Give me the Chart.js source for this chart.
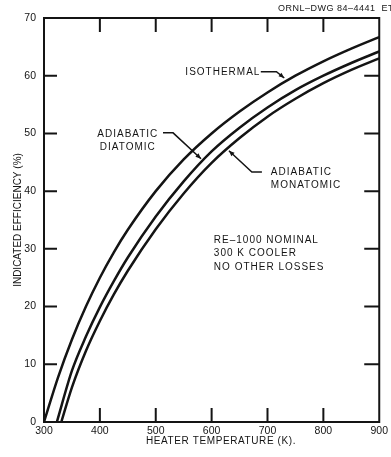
<!DOCTYPE html>
<html>
<head>
<meta charset="utf-8">
<script src="https://cdn.jsdelivr.net/npm/chart.js@4.4.0/dist/chart.umd.min.js"></script>
<style>
    html, body { margin: 0; padding: 0; background: #fff; }
    canvas { display: block; }
</style>
</head>
<body>
<canvas id="chart" width="391" height="457"></canvas>
<script>
// Heater temperature (K) vs indicated efficiency (%)
const isothermalTemps = [300, 325, 350, 375, 400, 425, 450, 500, 550, 600, 650, 700, 750, 800, 850, 900];
const isothermalEff = [0, 7.7, 14.3, 20.0, 25.0, 29.4, 33.3, 40.0, 45.5, 50.0, 53.8, 57.1, 60.0, 62.5, 64.7, 66.7];

const diatomicTemps = [323, 350, 375, 400, 425, 450, 500, 550, 600, 650, 700, 750, 800, 850, 900];
const diatomicEff = [0, 8.9, 14.8, 19.9, 24.4, 28.5, 35.6, 41.7, 46.9, 51.0, 54.5, 57.5, 60.0, 62.2, 64.2];

const monatomicTemps = [331, 350, 375, 400, 425, 450, 500, 550, 600, 650, 700, 750, 800, 850, 900];
const monatomicEff = [0, 6.0, 12.3, 17.5, 22.1, 26.2, 33.4, 39.6, 44.9, 49.2, 52.9, 56.0, 58.7, 61.0, 63.0];

const xTicks = [300, 400, 500, 600, 700, 800, 900];
const yTicks = [0, 10, 20, 30, 40, 50, 60, 70];

const INK = '#141414';
const FONT = "'Liberation Sans', Arial, sans-serif";

// Build {x, y} points for a curve
function points(temps, effs) {
    return temps.map((t, i) => ({ x: t, y: effs[i] }));
}

function curve(label, temps, effs) {
    return {
        label: label,
        data: points(temps, effs),
        borderColor: INK,
        borderWidth: 2.5,
        pointRadius: 0,
        fill: false,
        cubicInterpolationMode: 'monotone'
    };
}

// Labels and leader lines, placed in data units
const notes = {
    isothermal: { text: ['ISOTHERMAL'], x: 553, y: 60.6, align: 'left',
        leader: [[688, 60.7], [716, 60.7], [730, 59.6]] },
    diatomic: { text: ['ADIABATIC', 'DIATOMIC'], x: 450, y: 49.9, align: 'center',
        leader: [[513, 50.1], [531, 50.1], [581, 45.6]] },
    monatomic: { text: ['ADIABATIC', 'MONATOMIC'], x: 706, y: 43.3, align: 'left',
        leader: [[690, 43.3], [672, 43.3], [631, 47.0]] },
    conditions: { text: ['RE\u20131000 NOMINAL', '300 K COOLER', 'NO OTHER LOSSES'], x: 604, y: 31.5, align: 'left' }
};

function arrowHead(ctx, from, to) {
    const ang = Math.atan2(to[1] - from[1], to[0] - from[0]);
    const len = 6, spread = 0.4;
    ctx.beginPath();
    ctx.moveTo(to[0], to[1]);
    ctx.lineTo(to[0] - len * Math.cos(ang - spread), to[1] - len * Math.sin(ang - spread));
    ctx.lineTo(to[0] - len * Math.cos(ang + spread), to[1] - len * Math.sin(ang + spread));
    ctx.closePath();
    ctx.fill();
}

const framePlugin = {
    id: 'frame',
    afterDraw(chart) {
        const { ctx, chartArea: a, scales: { x, y } } = chart;
        ctx.save();
        ctx.strokeStyle = INK;
        ctx.fillStyle = INK;

        // Box and inward tick marks
        ctx.lineWidth = 2;
        ctx.strokeRect(a.left, a.top, a.right - a.left, a.bottom - a.top);
        ctx.beginPath();
        xTicks.slice(1, -1).forEach(v => {
            const px = x.getPixelForValue(v);
            ctx.moveTo(px, a.bottom); ctx.lineTo(px, a.bottom - 14);
            ctx.moveTo(px, a.top); ctx.lineTo(px, a.top + 14);
        });
        yTicks.slice(1, -1).forEach(v => {
            const py = y.getPixelForValue(v);
            ctx.moveTo(a.left, py); ctx.lineTo(a.left + 13, py);
            ctx.moveTo(a.right, py); ctx.lineTo(a.right - 15, py);
        });
        ctx.stroke();

        // Notes
        ctx.font = '10px ' + FONT;
        ctx.letterSpacing = '1px';
        ctx.textBaseline = 'middle';
        Object.values(notes).forEach(n => {
            ctx.textAlign = n.align;
            const px = x.getPixelForValue(n.x);
            const py = y.getPixelForValue(n.y);
            n.text.forEach((line, i) => ctx.fillText(line, px, py + i * 13.5));

            if (n.leader) {
                const pts = n.leader.map(p => [x.getPixelForValue(p[0]), y.getPixelForValue(p[1])]);
                ctx.lineWidth = 1.5;
                ctx.beginPath();
                pts.forEach((p, i) => i ? ctx.lineTo(p[0], p[1]) : ctx.moveTo(p[0], p[1]));
                ctx.stroke();
                arrowHead(ctx, pts[pts.length - 2], pts[pts.length - 1]);
            }
        });

        // X axis title
        ctx.font = '10px ' + FONT;
        ctx.letterSpacing = '0.6px';
        ctx.textAlign = 'center';
        ctx.fillText('HEATER TEMPERATURE (K).', 221, 441);

        // Drawing number, top right
        ctx.font = '9px ' + FONT;
        ctx.letterSpacing = '0.5px';
        ctx.textAlign = 'left';
        ctx.fillText('ORNL\u2013DWG 84\u20134441  ETD', 278, 9);
        ctx.restore();
    }
};

new Chart(document.getElementById('chart'), {
    type: 'line',
    data: {
        datasets: [
            curve('Isothermal', isothermalTemps, isothermalEff),
            curve('Adiabatic diatomic', diatomicTemps, diatomicEff),
            curve('Adiabatic monatomic', monatomicTemps, monatomicEff)
        ]
    },
    options: {
        responsive: false,
        animation: false,
        devicePixelRatio: 1,
        layout: { padding: { top: 18, right: 4, left: 0, bottom: 0 } },
        plugins: {
            legend: { display: false },
            tooltip: { enabled: false }
        },
        scales: {
            x: {
                type: 'linear',
                min: 300,
                max: 900,
                afterBuildTicks: scale => { scale.ticks = xTicks.map(v => ({ value: v })); },
                afterFit: scale => { scale.height = 35; },
                grid: { display: false, drawTicks: false },
                border: { display: false },
                ticks: { color: INK, padding: 3, maxRotation: 0, font: { family: FONT, size: 10.5 } }
            },
            y: {
                min: 0,
                max: 70,
                afterBuildTicks: scale => { scale.ticks = yTicks.map(v => ({ value: v })); },
                afterFit: scale => { scale.width = 44; },
                grid: { display: false, drawTicks: false },
                border: { display: false },
                ticks: { color: INK, padding: 8, font: { family: FONT, size: 10.5 } },
                title: {
                    display: true,
                    text: 'INDICATED EFFICIENCY (%)',
                    color: INK,
                    padding: { top: 12, bottom: 0 },
                    font: { family: FONT, size: 10 }
                }
            }
        }
    },
    plugins: [framePlugin]
});
</script>
</body>
</html>
